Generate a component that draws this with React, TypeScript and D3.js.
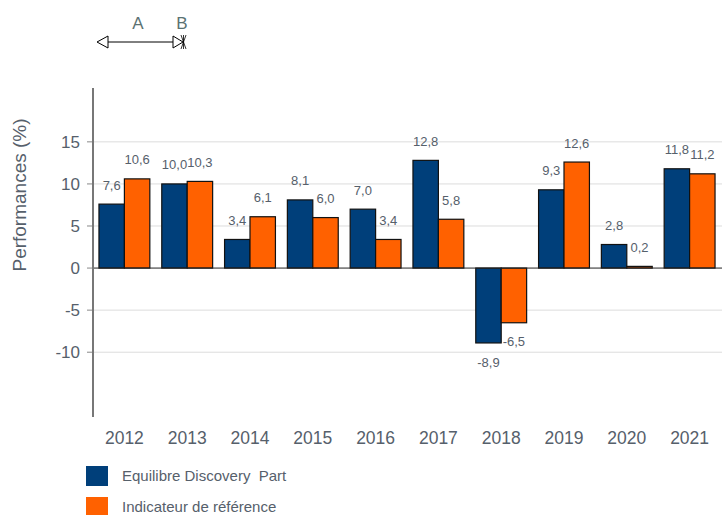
import React from "react";
import * as d3 from "d3";

const years = ["2012","2013","2014","2015","2016","2017","2018","2019","2020","2021"];
const fundValues = [7.6, 10.0, 3.4, 8.1, 7.0, 12.8, -8.9, 9.3, 2.8, 11.8];
const indexValues = [10.6, 10.3, 6.1, 6.0, 3.4, 5.8, -6.5, 12.6, 0.2, 11.2];
const seriesNames = ["Equilibre Discovery  Part", "Indicateur de référence"];
const seriesColors = ["#003f7a", "#ff6100"];
const yTicks = [15, 10, 5, 0, -5, -10];

const W = 722, H = 515;
const fmt = (v: number) => v.toFixed(1).replace(".", ",");
const textColor = "#56606b";
const font = "'Liberation Sans', Arial, sans-serif";

export default function App() {
  const y = d3.scaleLinear().domain([-17.7, 21.4]).range([417, 88]);
  const x0 = d3.scaleBand().domain(years).range([93, 721]).paddingInner(0.19).paddingOuter(0.095);
  const x1 = d3.scaleBand().domain(["0", "1"]).range([0, x0.bandwidth()]);
  const series = [fundValues, indexValues];

  return (
    <svg width={W} height={H} style={{ position: "absolute", left: 0, top: 0 }} fontFamily={font}>
      <rect width={W} height={H} fill="#fff" />
      {/* A/B decoration */}
      <text x={138} y={29} fontSize={17} fill="#5b7272" textAnchor="middle">A</text>
      <text x={182} y={29} fontSize={17} fill="#5b7272" textAnchor="middle">B</text>
      <line x1={108} y1={42} x2={173} y2={42} stroke="#000" strokeWidth={1} />
      <path d="M108,36 L97,42 L108,48 Z" fill="none" stroke="#000" strokeWidth={1} />
      <path d="M173,36 L183,42 L173,48 Z" fill="none" stroke="#000" strokeWidth={1} />
      <path d="M181,35 L186,49 M186,35 L181,49 M183.5,35 L183.5,49" stroke="#000" strokeWidth={0.8} />

      {/* gridlines */}
      {yTicks.filter(t => t !== 0).map(t => (
        <line key={t} x1={93} x2={722} y1={y(t)} y2={y(t)} stroke="#dcdcdc" strokeWidth={1} />
      ))}
      {/* tick marks and labels */}
      {yTicks.map(t => (
        <g key={"t" + t}>
          <line x1={87} x2={93} y1={y(t)} y2={y(t)} stroke="#888" strokeWidth={1} />
          <text x={80} y={y(t)} dy="0.35em" fontSize={17} fill={textColor} textAnchor="end">{t}</text>
        </g>
      ))}
      <text transform={`translate(26,${195}) rotate(-90)`} fontSize={19} fill={textColor} textAnchor="middle">Performances (%)</text>

      {/* bars */}
      {years.map((yr, i) => (
        <g key={yr} transform={`translate(${x0(yr)},0)`}>
          {series.map((vals, s) => {
            const v = vals[i];
            const bx = x1(String(s))!;
            const bw = x1.bandwidth();
            const top = Math.min(y(v), y(0));
            const h = Math.abs(y(v) - y(0));
            const ly = v >= 0 ? y(v) - 19 : y(v) + 19;
            return (
              <g key={s}>
                <rect x={bx} y={top} width={bw} height={Math.max(h, 1)} fill={seriesColors[s]} stroke="#111" strokeWidth={1.2} />
                <text x={bx + bw / 2} y={ly} dy="0.35em" fontSize={13} fill={textColor} textAnchor="middle">{fmt(v)}</text>
              </g>
            );
          })}
        </g>
      ))}
      {/* zero line */}
      <line x1={93} x2={722} y1={y(0)} y2={y(0)} stroke="#222" strokeWidth={1} />
      {/* y axis line */}
      <line x1={93} x2={93} y1={88} y2={417} stroke="#777" strokeWidth={2} />

      {/* x labels */}
      {years.map(yr => (
        <text key={"x" + yr} x={x0(yr)! + x0.bandwidth() / 2} y={438} dy="0.35em" fontSize={17.5} fill={textColor} textAnchor="middle">{yr}</text>
      ))}

      {/* legend */}
      {seriesNames.map((n, i) => (
        <g key={n} transform={`translate(86,${466 + i * 31})`}>
          <rect width={22} height={20} fill={seriesColors[i]} />
          <text x={36} y={10} dy="0.35em" fontSize={15} fill={textColor} style={{ whiteSpace: "pre" }}>{n}</text>
        </g>
      ))}
    </svg>
  );
}
